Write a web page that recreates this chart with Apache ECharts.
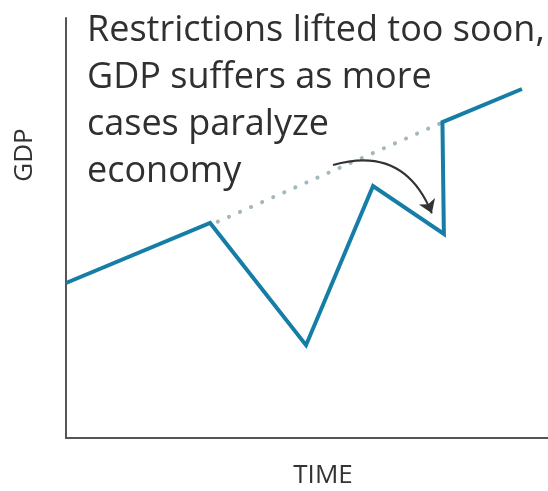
<!DOCTYPE html>
<html><head><meta charset="utf-8">
<script src="https://cdn.jsdelivr.net/npm/echarts@6/dist/echarts.min.js"></script>
<style>html,body{margin:0;padding:0;background:#fff}#c{width:548px;height:491px}</style>
</head><body><div id="c"></div>
<script>
// Data (arbitrary units: time 0-100, GDP 0-100)
var timeVals = [0, 29.9, 49.8, 63.7, 78.4, 78.1, 94.6];
var gdpVals  = [36.9, 51.2, 22.1, 60.0, 48.6, 75.2, 83.1];
var trendTime = [31.5, 77.8];
var trendGdp  = [51.5, 75.0];
var arrowFrom = [55.4, 65.0];
var arrowTo   = [75.9, 53.5];
var titleLines = ['Restrictions lifted too soon,', 'GDP suffers as more', 'cases paralyze', 'economy'];
var xName = 'TIME', yName = 'GDP';

var chart = echarts.init(document.getElementById('c'));
var FONT = '"Open Sans", "Noto Sans", sans-serif';
chart.setOption({
  animation: false,
  grid: {left: 66, right: 0, top: 18, bottom: 53},
  title: {
    text: titleLines.join('\n'), left: 82, top: 2,
    textStyle: {fontFamily: FONT, fontWeight: 'normal', fontSize: 36, lineHeight: 47, color: '#303030'}
  },
  xAxis: {type: 'value', min: 0, max: 100, axisLine: {show: true, lineStyle: {color: '#555', width: 2}},
    axisTick: {show: false}, axisLabel: {show: false}, splitLine: {show: false}},
  yAxis: {type: 'value', min: 0, max: 100, axisLine: {show: true, lineStyle: {color: '#555', width: 2}},
    axisTick: {show: false}, axisLabel: {show: false}, splitLine: {show: false}},
  graphic: [
    {type: 'text', x: 323, y: 476, style: {text: xName, font: '26px ' + FONT, fill: '#333', align: 'center', verticalAlign: 'middle'}},
    {type: 'text', x: 25, y: 155, rotation: Math.PI / 2, style: {text: yName, font: '26px ' + FONT, fill: '#333', align: 'center', verticalAlign: 'middle'}}
  ],
  series: [
    {type: 'line', data: trendTime.map(function (t, i) { return [t, trendGdp[i]]; }),
      symbol: 'none', lineStyle: {color: '#a3b7bc', width: 4, type: [0.1, 12], cap: 'round'}, z: 1},
    {type: 'line', data: timeVals.map(function (t, i) { return [t, gdpVals[i]]; }),
      symbol: 'none', lineStyle: {color: '#167ea6', width: 4, join: 'miter'}, z: 3},
    {type: 'lines', coordinateSystem: 'cartesian2d', z: 4,
      data: [{coords: [arrowFrom, arrowTo]}],
      symbol: ['none', 'arrow'], symbolSize: 13,
      lineStyle: {color: '#333', width: 2, curveness: 0.45, opacity: 1}}
  ]
});
</script></body></html>
